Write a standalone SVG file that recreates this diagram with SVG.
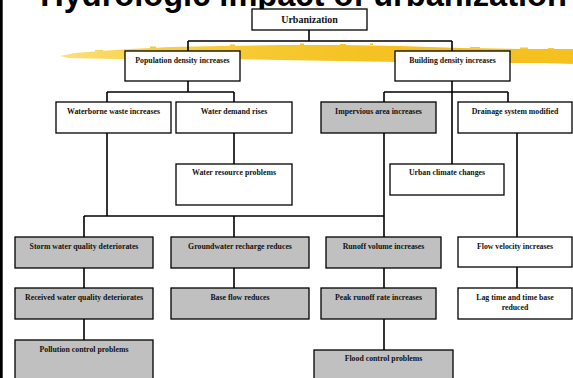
<svg xmlns="http://www.w3.org/2000/svg" width="573" height="378" viewBox="0 0 573 378">
<defs>
<linearGradient id="brush" x1="0" y1="0" x2="1" y2="0">
<stop offset="0" stop-color="#fbe07a"/>
<stop offset="0.2" stop-color="#f8d040"/>
<stop offset="0.6" stop-color="#f4c222"/>
<stop offset="1" stop-color="#f5c020"/>
</linearGradient>
</defs>
<style>
.box{fill:#ffffff;stroke:#000;stroke-width:1.3}
.g{fill:#c0c0c0}
.lbl{font-family:"Liberation Serif","Times New Roman",serif;font-weight:bold;font-size:7.8px;text-anchor:middle;fill:#111}
.con line{stroke:#000;stroke-width:1.6}
</style>
<rect width="573" height="378" fill="#ffffff"/>
<rect x="0" y="0" width="2.7" height="378" fill="#000"/>
<text x="303.5" y="6" font-family="'Liberation Sans',Arial,sans-serif" font-weight="bold" font-size="32.6" text-anchor="middle" fill="#000">Hydrologic impact of urbanization</text>
<g id="brushstroke">
<path d="M60,56 L75,53 L100,51 L130,49 L170,47 L220,46 L280,45 L340,45 L400,46 L460,48 L520,49 L573,49 L573,64 L545,63 L500,63 L450,62 L400,62 L340,61 L280,60 L220,59 L160,59 L120,59 L90,58.5 L68,58 Z" fill="url(#brush)"/>
<rect x="95" y="50" width="8" height="1.2" fill="#f8d45a"/>
<rect x="150" y="46.5" width="6" height="1.5" fill="#f6c93a"/>
<rect x="230" y="44.5" width="5" height="1.5" fill="#f6c93a"/>
<rect x="300" y="43.5" width="4" height="1.5" fill="#f4c424"/>
<rect x="340" y="44" width="6" height="1.5" fill="#f4c424"/>
<rect x="370" y="43.5" width="3" height="1.5" fill="#f4c424"/>
<rect x="470" y="47" width="10" height="1.5" fill="#f6c93a"/>
<rect x="520" y="47.5" width="8" height="1.5" fill="#f6c93a"/>
<rect x="548" y="48" width="6" height="1.5" fill="#f6c93a"/>
</g>
<g id="connectors" class="con">
<line x1="309" y1="30" x2="309" y2="41"/>
<line x1="188" y1="41" x2="452" y2="41"/>
<line x1="188" y1="41" x2="188" y2="51"/>
<line x1="452" y1="41" x2="452" y2="51"/>
<line x1="188" y1="81" x2="188" y2="92"/>
<line x1="107" y1="92" x2="234" y2="92"/>
<line x1="107" y1="92" x2="107" y2="102"/>
<line x1="234" y1="92" x2="234" y2="102"/>
<line x1="452" y1="81" x2="452" y2="164"/>
<line x1="384" y1="92" x2="508" y2="92"/>
<line x1="384" y1="92" x2="384" y2="102"/>
<line x1="508" y1="92" x2="508" y2="102"/>
<line x1="234" y1="133" x2="234" y2="164"/>
<line x1="107" y1="133" x2="107" y2="216"/>
<line x1="384" y1="133" x2="384" y2="216"/>
<line x1="84" y1="216" x2="384" y2="216"/>
<line x1="84" y1="216" x2="84" y2="237"/>
<line x1="234" y1="216" x2="234" y2="237"/>
<line x1="384" y1="216" x2="384" y2="237"/>
<line x1="84" y1="268" x2="84" y2="288"/>
<line x1="84" y1="319" x2="84" y2="340"/>
<line x1="234" y1="268" x2="234" y2="288"/>
<line x1="384" y1="268" x2="384" y2="288"/>
<line x1="384" y1="319" x2="384" y2="350"/>
<line x1="517" y1="133" x2="517" y2="237"/>
<line x1="517" y1="267" x2="517" y2="288"/>
</g>
<g id="urbanization"><rect class="box" x="252" y="9" width="115" height="21"/><text class="lbl" x="309.5" y="23.3" style="font-size:10px">Urbanization</text></g>
<g id="population"><rect class="box" x="125" y="51" width="115" height="30"/><text class="lbl" x="182.5" y="62.6">Population density increases</text></g>
<g id="building"><rect class="box" x="395" y="51" width="115" height="30"/><text class="lbl" x="452.5" y="62.6">Building density increases</text></g>
<g id="waterborne"><rect class="box" x="56" y="102" width="115" height="31"/><text class="lbl" x="113.5" y="114">Waterborne waste increases</text></g>
<g id="demand"><rect class="box" x="176" y="102" width="116" height="31"/><text class="lbl" x="234" y="114">Water demand rises</text></g>
<g id="resource"><rect class="box" x="176" y="164" width="116" height="41"/><text class="lbl" x="234" y="175">Water resource problems</text></g>
<g id="impervious"><rect class="box g" x="321" y="102" width="115" height="31"/><text class="lbl" x="378.5" y="114">Impervious area increases</text></g>
<g id="drainage"><rect class="box" x="458" y="102" width="114" height="31"/><text class="lbl" x="515" y="114">Drainage system modified</text></g>
<g id="climate"><rect class="box" x="390" y="164" width="114" height="31"/><text class="lbl" x="447" y="175">Urban climate changes</text></g>
<g id="storm"><rect class="box g" x="15" y="237" width="138" height="31"/><text class="lbl" x="84" y="248.5">Storm water quality deteriorates</text></g>
<g id="groundwater"><rect class="box g" x="171" y="237" width="138" height="31"/><text class="lbl" x="240" y="248.5">Groundwater recharge reduces</text></g>
<g id="runoff"><rect class="box g" x="326" y="237" width="115" height="31"/><text class="lbl" x="383.5" y="248.5">Runoff volume increases</text></g>
<g id="velocity"><rect class="box" x="458" y="237" width="114" height="30"/><text class="lbl" x="515" y="248.5">Flow velocity increases</text></g>
<g id="received"><rect class="box g" x="15" y="288" width="138" height="31"/><text class="lbl" x="84" y="299.5">Received water quality deteriorates</text></g>
<g id="baseflow"><rect class="box g" x="171" y="288" width="138" height="31"/><text class="lbl" x="240" y="299.5">Base flow reduces</text></g>
<g id="peak"><rect class="box g" x="321" y="288" width="115" height="31"/><text class="lbl" x="378.5" y="299.5">Peak runoff rate increases</text></g>
<g id="lagtime"><rect class="box" x="458" y="288" width="114" height="31"/><text class="lbl" x="515" y="299.5">Lag time and time base</text><text class="lbl" x="515" y="309.5">reduced</text></g>
<g id="pollution"><rect class="box g" x="15" y="340" width="138" height="42"/><text class="lbl" x="84" y="352">Pollution control problems</text></g>
<g id="flood"><rect class="box g" x="314" y="350" width="139" height="32"/><text class="lbl" x="383.5" y="361">Flood control problems</text></g>
</svg>
